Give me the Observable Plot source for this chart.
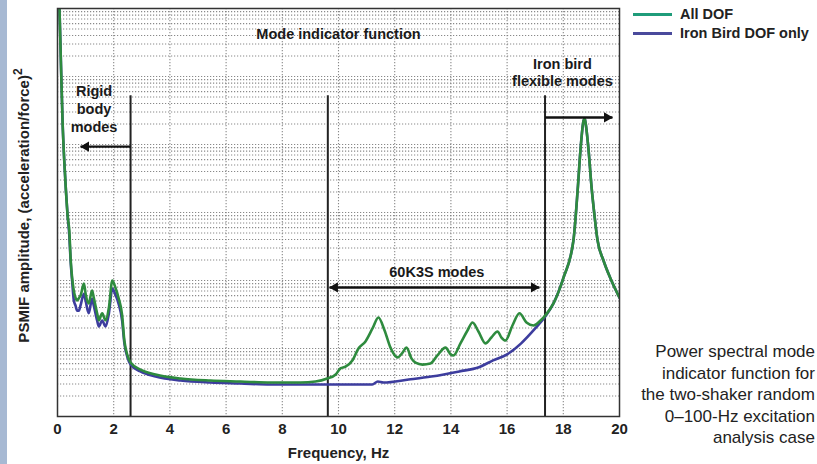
<!DOCTYPE html>
<html>
<head>
<meta charset="utf-8">
<script src="https://cdn.jsdelivr.net/npm/d3@7"></script>
<script src="https://cdn.jsdelivr.net/npm/@observablehq/plot@0.6"></script>
<style>
  body { margin: 0; background: #fff; }
  #wrap { position: relative; width: 817px; height: 464px; overflow: hidden; font-family: "Liberation Sans", Arial, sans-serif; background: #fff; }
  #strip { position: absolute; left: 0; top: 0; width: 7px; height: 464px; background: #a7b9d3; }
  #chart { position: absolute; left: 0; top: 0; }
  #ylabel { position: absolute; width: 400px; left: -179px; top: 194px; text-align: center; font-weight: bold; font-size: 15px; color: #222; transform: rotate(-90deg); transform-origin: 50% 50%; white-space: nowrap; line-height: 18px; }
  #ylabel sup { font-size: 12px; position: relative; top: -1px; }
  .leg { position: absolute; left: 633px; font-weight: bold; font-size: 14.5px; color: #222; white-space: nowrap; }
  .leg .sw { position: absolute; left: 0; top: 7px; width: 39px; height: 3px; }
  .leg .lb { position: absolute; left: 47px; top: 0; line-height: 17px; }
  #caption { position: absolute; right: 2px; top: 341px; width: 220px; text-align: right; font-size: 17px; line-height: 21.6px; color: #222; }
</style>
</head>
<body>
<div id="wrap">
  <div id="strip"></div>
  <div id="chart"></div>
  <div id="ylabel">PSMIF amplitude, (acceleration/force)<sup>2</sup></div>
  <div id="legend"></div>
  <div id="caption"></div>
</div>
<script>
// ---- Data (frequency in Hz, PSMIF amplitude in arbitrary units, log scale) ----
const allFreq = [0.02, 0.07, 0.12, 0.18, 0.24, 0.30, 0.36, 0.42, 0.47, 0.52, 0.58, 0.64, 0.70, 0.76, 0.82, 0.94, 1.00, 1.11, 1.23, 1.29, 1.41, 1.47, 1.59, 1.71, 1.83, 1.95, 2.06, 2.17, 2.30, 2.38, 2.49, 2.60, 2.95, 3.49, 4.38, 5.44, 6.51, 7.58, 8.65, 9.18, 9.60, 9.90, 10.07, 10.25, 10.50, 10.71, 10.96, 11.21, 11.42, 11.64, 11.85, 12.10, 12.28, 12.42, 12.60, 12.74, 12.99, 13.27, 13.52, 13.81, 13.99, 14.09, 14.34, 14.59, 14.77, 14.98, 15.23, 15.44, 15.66, 15.80, 15.94, 16.19, 16.44, 16.69, 16.94, 17.19, 17.37, 17.65, 18.01, 18.36, 18.51, 18.61, 18.72, 18.76, 18.79, 18.90, 19.00, 19.11, 19.22, 19.43, 19.68, 20.00];
const allAmp = [2.6e6, 1.0e6, 1.7e5, 2.2e4, 5.8e3, 2.1e3, 900, 540, 200, 110, 71, 56, 51, 55, 60, 90, 64, 46, 71, 56, 33, 26, 33, 26, 40, 100, 79, 56, 31, 13, 7.9, 6.2, 4.9, 4.15, 3.62, 3.38, 3.27, 3.16, 3.16, 3.27, 3.62, 4.15, 5.1, 5.4, 6.7, 10, 12.7, 19.7, 28.6, 18.4, 10.3, 7.4, 8.7, 10.3, 7.1, 6.2, 5.8, 6.0, 7.9, 10.3, 8.2, 7.9, 11.9, 18.4, 24.1, 17.8, 11.9, 14.5, 17.8, 14.5, 13.1, 21.8, 33, 24.1, 21.8, 25.8, 31, 46, 111, 387, 2110, 8200, 22500, 24100, 21100, 8200, 2500, 904, 387, 197, 107, 56];

const ironFreq = [0.02, 0.07, 0.12, 0.18, 0.24, 0.30, 0.36, 0.42, 0.47, 0.52, 0.58, 0.64, 0.70, 0.76, 0.82, 0.94, 1.00, 1.11, 1.23, 1.29, 1.41, 1.47, 1.59, 1.71, 1.83, 1.95, 2.06, 2.17, 2.30, 2.38, 2.49, 2.60, 2.95, 3.49, 4.38, 5.44, 6.51, 7.58, 8.65, 9.60, 10.50, 11.20, 11.40, 11.60, 12.50, 13.30, 14.30, 15.00, 15.50, 16.00, 16.50, 17.00, 17.37, 17.65, 18.01, 18.36, 18.51, 18.61, 18.72, 18.76, 18.79, 18.90, 19.00, 19.11, 19.22, 19.43, 19.68, 20.00];
const ironAmp = [2.6e6, 1.0e6, 1.7e5, 2.2e4, 5.8e3, 2.1e3, 900, 460, 184, 100, 51, 43, 36, 36, 43, 64, 51, 33, 54, 43, 25.8, 21.1, 25.8, 21.1, 33, 76, 62, 46, 25.8, 11.9, 7.4, 5.8, 4.6, 3.87, 3.38, 3.16, 3.06, 2.96, 2.96, 2.96, 2.96, 2.96, 3.27, 3.16, 3.5, 3.87, 4.6, 5.3, 6.7, 8.2, 11.9, 19.7, 30, 46, 111, 387, 2110, 8200, 22500, 24100, 21100, 8200, 2500, 904, 387, 197, 107, 56];

const seriesNames = ["All DOF", "Iron Bird DOF only"];
const lineColors = ["#2e8b3e", "#3d3d9e"];
const legendColors = ["#1f9c7a", "#4a4a9c"];

const xTicks = [0, 2, 4, 6, 8, 10, 12, 14, 16, 18, 20];
const xGridTicks = [2, 4, 6, 8, 10, 12, 14, 16, 18];

// region boundaries and annotations
const boundFreq = [2.6, 9.62, 17.35];
const boundTop = 5.2e4;
const annoText = ["Mode indicator function", "Rigid\nbody\nmodes", "Iron bird\nflexible modes", "60K3S modes"];
const annoX = [10.0, 1.3, 17.97, 13.5];
const annoY = [4.3e5, 3.4e4, 1.17e5, 136];
const arrowX1 = [2.6, 13.4, 13.4, 17.35];
const arrowX2 = [0.82, 9.68, 17.15, 19.75];
const arrowY = [9.3e3, 79, 79, 2.5e4];

const captionLines = ["Power spectral mode", "indicator function for", "the two-shaker random", "0\u2013100-Hz excitation", "analysis case"];

// ---- Build tables ----
const allData = allFreq.map((f, i) => ({f, v: allAmp[i]}));
const ironData = ironFreq.map((f, i) => ({f, v: ironAmp[i]}));
const yGrid = [];
for (let k = 0; k < 6; k++) for (let m = 1; m < 10; m++) yGrid.push(m * Math.pow(10, k));
yGrid.push(1e6);
const annos = annoText.map((t, i) => ({t, x: annoX[i], y: annoY[i]}));
const arrows = arrowX1.map((x1, i) => ({x1, x2: arrowX2[i], y: arrowY[i], left: arrowX2[i] < x1}));
const leftHeads = arrows.filter(d => d.left);
const rightHeads = arrows.filter(d => !d.left);

const gridStyle = {stroke: "#7c7c7c", strokeOpacity: 0.9, strokeWidth: 1.1, strokeDasharray: "1.2,1.8"};

const plot = Plot.plot({
  width: 817,
  height: 464,
  marginLeft: 57,
  marginRight: 198,
  marginTop: 8,
  marginBottom: 48,
  style: {fontFamily: "Liberation Sans, Arial, sans-serif", fontSize: "14px", fontWeight: "bold", color: "#222", background: "transparent", overflow: "visible"},
  x: {domain: [0, 20]},
  y: {type: "log", domain: [1, 1e6], axis: null},
  marks: [
    Plot.gridY(yGrid, gridStyle),
    Plot.gridX(xGridTicks, gridStyle),
    Plot.axisX({ticks: xTicks, tickSize: 0, tickPadding: 7, tickFormat: d => String(d), fontSize: 15, fontWeight: "bold", label: "Frequency, Hz", labelAnchor: "center", labelArrow: "none", labelOffset: 41}),
    Plot.ruleX(boundFreq, {y1: 1, y2: boundTop, stroke: "#222", strokeWidth: 2}),
    Plot.line(ironData, {x: "f", y: "v", stroke: lineColors[1], strokeWidth: 2.6, clip: true, curve: "monotone-x"}),
    Plot.line(allData, {x: "f", y: "v", stroke: lineColors[0], strokeWidth: 2.6, clip: true, curve: "monotone-x"}),
    Plot.link(arrows, {x1: "x1", x2: "x2", y1: "y", y2: "y", stroke: "#111", strokeWidth: 2.4}),
    Plot.dot(leftHeads, {x: "x2", y: "y", symbol: "triangle", r: 3.8, fill: "#111", stroke: "none", rotate: -90, dx: 5.5}),
    Plot.dot(rightHeads, {x: "x2", y: "y", symbol: "triangle", r: 3.8, fill: "#111", stroke: "none", rotate: 90, dx: -5.5}),
    Plot.text(annos, {x: "x", y: "y", text: "t", fontSize: 14.5, fontWeight: "bold", fill: "#1a1a1a", lineHeight: 1.22, lineAnchor: "middle", textAnchor: "middle"}),
    Plot.frame({stroke: "#333", strokeWidth: 1.5})
  ]
});
document.getElementById("chart").appendChild(plot);

// legend
const legend = document.getElementById("legend");
seriesNames.forEach((name, i) => {
  const d = document.createElement("div");
  d.className = "leg";
  d.style.top = (6 + i * 19) + "px";
  d.innerHTML = `<div class="sw" style="background:${legendColors[i]}"></div><div class="lb">${name}</div>`;
  legend.appendChild(d);
});

// caption
document.getElementById("caption").innerHTML = captionLines.map(l => `<div>${l}</div>`).join("");
</script>
</body>
</html>
